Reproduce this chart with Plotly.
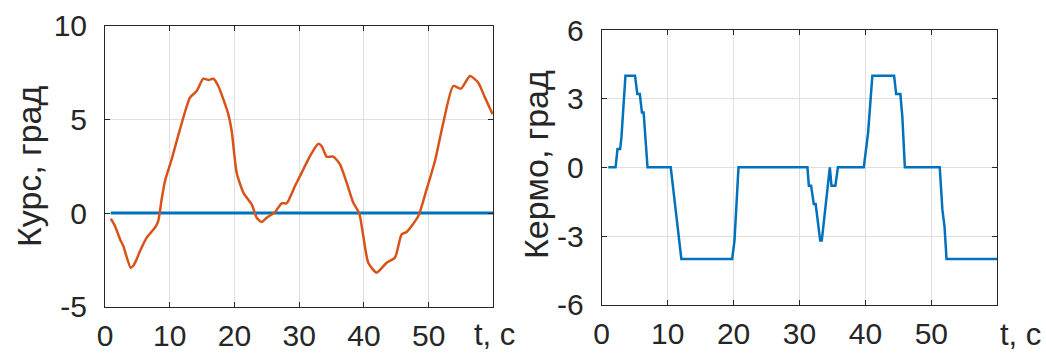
import plotly.graph_objects as go

# ---- data ----
kurs_t = [0.9, 1.54, 2.32, 2.83, 3.96, 4.4, 4.89, 5.41, 6.44, 7.72, 8.24, 8.75, 9.27, 10.3, 11.58,
          13.13, 14.16, 15.19, 16.0, 16.73, 17.5, 19.05, 19.57, 20.34, 21.37, 22.66, 23.43, 24.2,
          24.97, 26.26, 27.29, 28.06, 29.35, 30.12, 31.67, 32.95, 33.46, 34.24, 35.27, 36.3, 37.33,
          38.36, 39.28, 39.9, 40.67, 41.96, 43.51, 44.79, 45.82, 46.6, 48.4, 49.68, 50.97, 52.26,
          53.8, 54.99, 56.38, 57.66, 58.7, 59.88]
kurs_v = [-0.3, -0.69, -1.4, -1.76, -2.92, -2.8, -2.47, -2.03, -1.31, -0.78, -0.4, 0.73, 1.71, 2.87, 4.47,
          6.16, 6.51, 7.17, 7.1, 7.17, 6.78, 5.27, 4.38, 2.15, 1.09, 0.46, -0.25, -0.48,
          -0.25, 0.05, 0.52, 0.52, 1.44, 1.97, 3.04, 3.7, 3.58, 3.01, 3.01, 2.6, 1.62,
          0.55, -0.02, -1.23, -2.65, -3.18, -2.65, -2.38, -1.14, -1.01, -0.16, 1.26, 2.78, 4.82,
          6.78, 6.64, 7.31, 6.96, 6.16, 5.27]
ref_t = [0.9, 60]
ref_v = [0, 0]

kermo_t = [1, 2.1, 2.4, 2.8, 3.0, 3.23, 3.6, 5.06, 5.4, 5.78, 6.1, 6.36, 6.95, 10.47, 12.08, 19.79,
           20.14, 20.75, 31.2, 31.42, 31.76, 32.16, 32.45, 33.14, 33.38, 34.6, 34.85, 35.44, 35.83,
           39.75, 40.4, 41.05, 44.35, 44.66, 45.3, 45.6, 45.98, 51.27, 51.67, 52.0, 52.3, 60]
kermo_v = [0, 0, 0.8, 0.8, 1.33, 2.2, 4, 4, 3.2, 3.2, 2.4, 2.4, 0, 0, -4, -4,
           -3.2, 0, 0, -0.8, -0.8, -1.6, -1.6, -3.2, -3.2, 0, -0.8, -0.8, 0,
           0, 1.5, 4, 4, 3.2, 3.2, 2.2, 0, 0, -1.85, -2.6, -4, -4]

x_ticks = [0, 10, 20, 30, 40, 50]
y1_ticks = [-5, 0, 5, 10]
y2_ticks = [-6, -3, 0, 3, 6]

ORANGE = "#D95319"
BLUE = "#0072BD"
AX = "#262626"
GRID = "#dfdfdf"
FONT = "Liberation Sans, Arial, sans-serif"

W, H = 1046, 354

fig = go.Figure()
fig.add_trace(go.Scatter(x=ref_t, y=ref_v, mode="lines", line=dict(color=BLUE, width=3),
                         xaxis="x", yaxis="y", showlegend=False))
fig.add_trace(go.Scatter(x=kurs_t, y=kurs_v, mode="lines", line=dict(color=ORANGE, width=2.5, shape="spline", smoothing=0.6),
                         xaxis="x", yaxis="y", showlegend=False))
fig.add_trace(go.Scatter(x=kermo_t, y=kermo_v, mode="lines", line=dict(color=BLUE, width=2.5),
                         xaxis="x2", yaxis="y2", showlegend=False))

def px_x(p):
    return p / W

def px_y(p):
    return 1 - p / H

def labels(vals):
    return [str(v) for v in vals]

common = dict(showline=True, linecolor=AX, linewidth=1, mirror="ticks", ticks="inside", ticklen=5,
              tickcolor=AX, showgrid=True, gridcolor=GRID, gridwidth=1, zeroline=False,
              automargin=False, tickmode="array",
              tickfont=dict(family=FONT, size=30, color=AX))

fig.update_layout(
    width=W, height=H, margin=dict(l=0, r=0, t=0, b=0, autoexpand=False),
    paper_bgcolor="white", plot_bgcolor="white",
    xaxis=dict(domain=[px_x(105), px_x(493.4)], range=[0, 60], tickvals=x_ticks, ticktext=labels(x_ticks),
               anchor="y", ticklabelstandoff=2, **common),
    yaxis=dict(domain=[px_y(306.7), px_y(25.7)], range=[-5, 10], tickvals=y1_ticks, ticktext=labels(y1_ticks),
               anchor="x", ticklabelstandoff=11, **common),
    xaxis2=dict(domain=[px_x(601.7), px_x(997.3)], range=[0, 60], tickvals=x_ticks, ticktext=labels(x_ticks),
                anchor="y2", ticklabelstandoff=2, **common),
    yaxis2=dict(domain=[px_y(304.7), px_y(30)], range=[-6, 6], tickvals=y2_ticks, ticktext=labels(y2_ticks),
                anchor="x2", ticklabelstandoff=11, **common),
)

annots = [
    dict(text="Курс, град", x=px_x(29), y=px_y(167), textangle=-90, xanchor="center", yanchor="middle", font_size=34),
    dict(text="Кермо, град", x=px_x(536), y=px_y(165), textangle=-90, xanchor="center", yanchor="middle", font_size=34),
    dict(text="t, c", x=px_x(472), y=0, xanchor="left", yanchor="bottom", font_size=31),
    dict(text="t, c", x=px_x(998), y=0, xanchor="left", yanchor="bottom", font_size=31),
]
for a in annots:
    fs = a.pop("font_size")
    fig.add_annotation(xref="paper", yref="paper", showarrow=False,
                       font=dict(family=FONT, size=fs, color=AX), **a)

fig.write_html("out.html")
